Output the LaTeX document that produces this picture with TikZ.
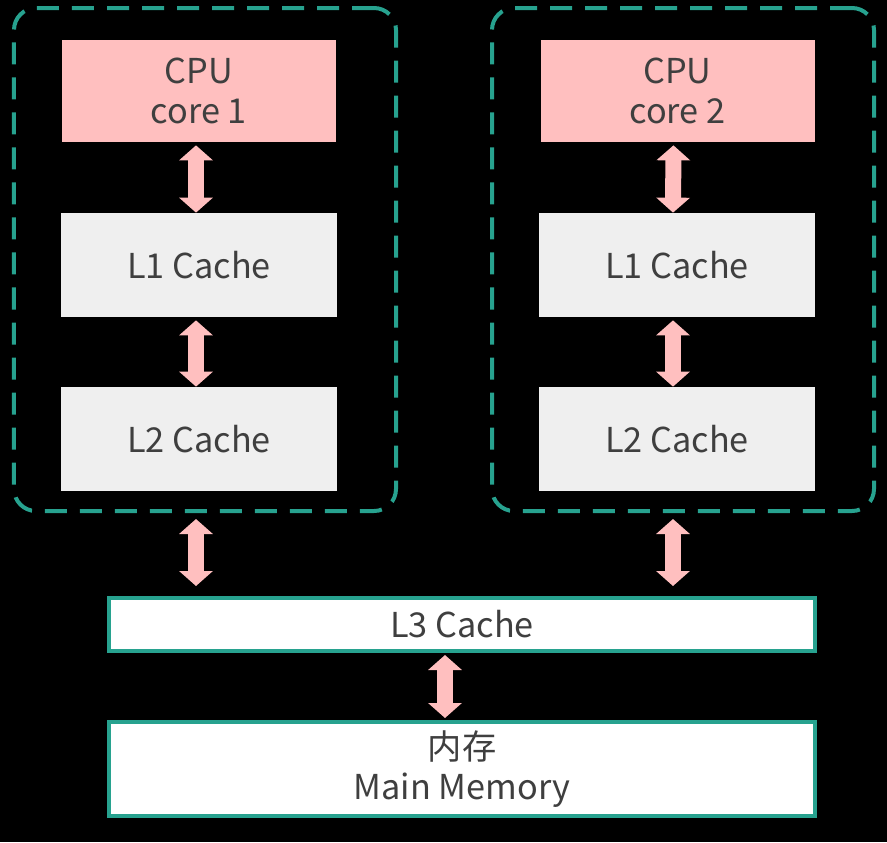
\documentclass[tikz,border=0pt]{standalone}
\usepackage{fontspec}
\setmainfont{Noto Sans CJK SC}
\usepackage{tikz}
\usetikzlibrary{positioning, calc, arrows.meta}
\definecolor{teal1}{HTML}{27A28F}
\definecolor{pink1}{HTML}{FFBFBF}
\definecolor{gray1}{HTML}{EFEFEF}
\definecolor{text1}{HTML}{3F3F3F}
\tikzset{core/.style = {fill=pink1, text=text1, align=center, minimum width=54.8mm, minimum height=20.4mm, inner sep=0pt},
         cache/.style = {fill=gray1, text=text1, minimum width=55.2mm, minimum height=20.8mm, inner sep=0pt},
         shared/.style = {draw=teal1, line width=0.8mm, fill=white, text=text1, align=center, minimum width=141.2mm, inner sep=0pt},
         group/.style = {draw=teal1, line width=0.8mm, dash pattern=on 4.4mm off 2.6mm, rounded corners=4.4mm, minimum width=76.4mm, minimum height=100.6mm, inner sep=0pt},
         link/.style = {draw=pink1, line width=3.2mm, {Triangle[width=6.6mm,length=3mm]}-{Triangle[width=6.6mm,length=3mm]}}}

\begin{document}
\begin{tikzpicture}[x=0.2mm, y=-0.2mm, font=\fontsize{19.5}{22.8}\selectfont]
            \fill [black] (0, 0) rectangle (887, 842);

            \node [group]                        (box1) at (205, 259.5) {};
            \node [group]                        (box2) at (683, 259.5) {};

            \node [core]                         (cpu1) at (199,  91)  {CPU\\core 1};
            \node [cache]                        (l1a)  at (199, 265)  {L1 Cache};
            \node [cache]                        (l2a)  at (199, 439)  {L2 Cache};

            \node [core]                         (cpu2) at (677.5, 91) {CPU\\core 2};
            \node [cache]                        (l1b)  at (677, 265)  {L1 Cache};
            \node [cache]                        (l2b)  at (677, 439)  {L2 Cache};

            \node [shared, minimum height=10.6mm] (l3)  at (462, 624.5) {L3 Cache};
            \node [shared, minimum height=18.8mm] (mem) at (462, 769)   {内存\\Main Memory};

            \draw [link, shorten <=0.6mm] ([xshift=-0.6mm]cpu1.south) -- ([xshift=-0.6mm]l1a.north);
            \draw [link, shorten <=0.6mm] ([xshift=-0.6mm]l1a.south) -- ([xshift=-0.6mm]l2a.north);
            \draw [link, shorten <=0.6mm] ([xshift=-0.8mm]cpu2.south) -- ([xshift=-0.8mm]l1b.north);
            \draw [link, shorten <=0.6mm] ([xshift=-0.8mm]l1b.south) -- ([xshift=-0.8mm]l2b.north);
            \draw [link, shorten <=1.2mm, shorten >=2mm] (box1.south -| l1a.south) ++(-3, 0) coordinate (a1) -- (l3.north -| a1);
            \draw [link, shorten <=1.2mm, shorten >=2mm] (box2.south -| l1b.south) ++(-4, 0) coordinate (a2) -- (l3.north -| a2);
            \draw [link, shorten <=0.4mm, shorten >=0.4mm] ([xshift=-3.4mm]l3.south) -- ([xshift=-3.4mm]mem.north);
        \end{tikzpicture}
\end{document}
